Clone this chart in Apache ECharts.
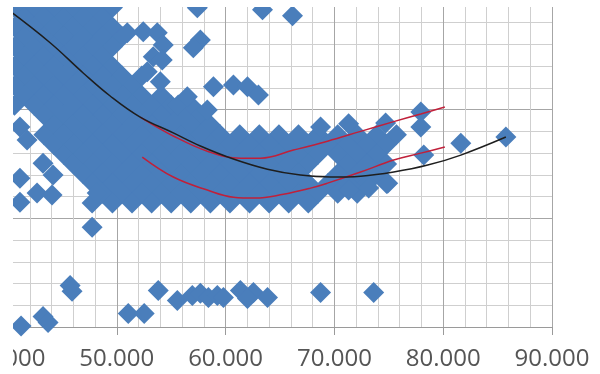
<!DOCTYPE html>
<html>
<head>
<meta charset="utf-8">
<script src="https://cdn.jsdelivr.net/npm/echarts@6/dist/echarts.min.js"></script>
<style>
  html, body { margin: 0; padding: 0; background: #fff; }
  #chart { width: 600px; height: 374px; }
</style>
</head>
<body>
<div id="chart"></div>
<script>
// x values in thousands, y in grid units (no y labels shown in the source)
const xTickValues = [40, 50, 60, 70, 80, 90];
const xTickLabels = ['40.000', '50.000', '60.000', '70.000', '80.000', '90.000'];

// dense cloud, read row by row: [y, [x...]]
const massRows = [
  [14.7, [40.6, 42.4, 44.2, 46.0, 47.8, 49.6]],
  [14.25, [41.5, 43.3, 45.1, 46.9, 48.7]],
  [13.8, [40.6, 42.4, 44.2, 46.0, 47.8, 49.6]],
  [13.35, [41.5, 43.3, 45.1, 46.9, 48.7, 50.5]],
  [12.9, [40.6, 42.4, 44.2, 46.0, 47.8, 49.6]],
  [12.45, [41.5, 43.3, 45.1, 46.9, 48.7]],
  [12.0, [40.6, 42.4, 44.2, 46.0, 47.8, 49.6]],
  [11.55, [41.5, 43.3, 45.1, 46.9, 48.7, 50.5, 52.3]],
  [11.1, [40.6, 42.4, 44.2, 46.0, 47.8, 49.6, 51.4]],
  [10.65, [41.5, 43.3, 45.1, 46.9, 48.7, 50.5, 52.3, 54.1]],
  [10.2, [40.6, 42.4, 44.2, 46.0, 47.8, 49.6, 51.4, 53.2, 55.0, 56.8]],
  [9.75, [43.3, 45.1, 46.9, 48.7, 50.5, 52.3, 54.1, 55.9, 57.7]],
  [9.3, [44.2, 46.0, 47.8, 49.6, 51.4, 53.2, 55.0, 56.8, 58.6]],
  [8.85, [43.3, 45.1, 46.9, 48.7, 50.5, 52.3, 54.1, 55.9, 57.7, 59.5, 61.3, 63.1, 64.9, 66.7, 68.5, 70.3, 72.1, 73.9, 75.7]],
  [8.4, [44.2, 46.0, 47.8, 49.6, 51.4, 53.2, 55.0, 56.8, 58.6, 60.4, 62.2, 64.0, 65.8, 67.6, 69.4, 71.2, 73.0, 74.8]],
  [7.95, [45.1, 46.9, 48.7, 50.5, 52.3, 54.1, 55.9, 57.7, 59.5, 61.3, 63.1, 64.9, 66.7, 68.5, 70.3, 72.1, 73.9]],
  [7.5, [46.0, 47.8, 49.6, 51.4, 53.2, 55.0, 56.8, 58.6, 60.4, 62.2, 64.0, 65.8, 67.6, 71.2, 73.0, 74.8]],
  [7.05, [46.9, 48.7, 50.5, 52.3, 54.1, 55.9, 57.7, 59.5, 61.3, 63.1, 64.9, 66.7, 70.3, 72.1, 73.9]],
  [6.6, [47.8, 49.6, 51.4, 53.2, 55.0, 56.8, 58.6, 60.4, 62.2, 64.0, 65.8, 67.6, 69.4, 71.2, 73.0, 74.8]],
  [6.15, [48.7, 50.5, 52.3, 54.1, 55.9, 57.7, 59.5, 61.3, 63.1, 64.9, 66.7, 68.5, 70.3, 72.1]],
  [5.7, [49.6, 51.4, 53.2, 55.0, 56.8, 58.6, 60.4, 62.2, 64.0, 65.8, 67.6]]
];

// loose points around the cloud
const edgePoints = [
  [57.4, 14.69], [63.39, 14.6], [66.15, 14.32], [57.68, 13.21], [57.03, 12.85],
  [50.96, 13.54], [52.43, 13.58], [53.72, 13.54], [54.27, 12.98], [53.35, 12.43],
  [54.18, 12.29], [52.8, 11.74], [54.0, 11.28], [58.88, 11.05], [60.72, 11.14],
  [62.01, 11.05], [63.02, 10.68], [55.65, 10.22], [56.48, 10.59], [58.32, 9.99],
  [68.73, 9.2], [71.31, 9.35], [74.71, 9.39], [77.94, 9.89], [77.94, 9.2],
  [78.21, 7.91], [81.62, 8.46], [85.76, 8.74], [71.31, 6.3], [73.15, 6.39], [74.9, 6.62],
  [41.1, 9.2], [41.75, 8.6], [43.22, 7.54], [44.14, 6.99], [41.1, 6.85],
  [42.67, 6.16], [44.05, 6.07], [41.1, 5.74], [47.73, 5.7], [48.2, 6.16], [47.73, 4.59]
];

// bottom strip
const lowPoints = [
  [41.2, 0.05], [43.22, 0.48], [43.68, 0.21], [45.71, 1.91], [45.89, 1.64],
  [51.05, 0.62], [52.52, 0.62], [53.81, 1.68], [55.56, 1.22], [56.94, 1.45],
  [57.68, 1.55], [58.42, 1.36], [59.24, 1.45], [59.8, 1.36], [61.36, 1.68],
  [62.56, 1.59], [62.01, 1.31], [63.85, 1.36], [68.73, 1.59], [73.61, 1.59]
];

// trend line (black) and the two red bands
const trendX = [40.0, 43.87, 46.91, 49.39, 52.15, 55.19, 57.68, 60.72, 63.85, 66.88, 69.65, 72.41, 75.45, 78.58, 81.62, 85.76];
const trendY = [14.6, 13.08, 11.69, 10.63, 9.66, 8.93, 8.33, 7.73, 7.26, 6.99, 6.9, 6.94, 7.13, 7.45, 7.91, 8.74];
const upperX = [52.15, 55.19, 58.32, 61.36, 63.2, 66.24, 69.37, 72.41, 75.45, 77.94, 80.15];
const upperY = [9.66, 8.79, 8.09, 7.77, 7.77, 8.14, 8.55, 9.0, 9.45, 9.8, 10.12];
const lowerX = [52.34, 55.19, 58.32, 60.72, 62.74, 65.32, 67.81, 69.37, 72.41, 75.45, 77.94, 80.15];
const lowerY = [7.82, 6.9, 6.3, 5.97, 5.93, 6.11, 6.39, 6.62, 7.13, 7.68, 8.0, 8.28];

const scatterData = [];
massRows.forEach(([y, xs]) => xs.forEach(x => scatterData.push([x, y])));
edgePoints.forEach(p => scatterData.push(p));
lowPoints.forEach(p => scatterData.push(p));

const pairUp = (xs, ys) => xs.map((x, i) => [x, ys[i]]);

const chart = echarts.init(document.getElementById('chart'));
const option = {
  animation: false,
  grid: { left: 8, right: 48, top: 1, bottom: 47, containLabel: false, outerBoundsMode: 'none' },
  xAxis: {
    type: 'value',
    min: 40,
    max: 90,
    interval: 10,
    axisLine: { show: true, lineStyle: { color: '#9a9a9a', width: 1 } },
    axisTick: { show: true, length: 8, lineStyle: { color: '#9a9a9a' } },
    axisLabel: {
      margin: 20,
      fontFamily: 'Open Sans',
      fontSize: 24,
      color: '#555555',
      formatter: v => xTickLabels[xTickValues.indexOf(v)] || ''
    },
    splitLine: { show: true, lineStyle: { color: '#a6a6a6', width: 1 } },
    minorTick: { show: false, splitNumber: 5 },
    minorSplitLine: { show: true, lineStyle: { color: '#cfcfcf', width: 1 } }
  },
  yAxis: {
    type: 'value',
    min: 0,
    max: 15,
    interval: 5,
    axisLine: { show: false },
    axisTick: { show: false },
    axisLabel: { show: false },
    splitLine: { show: true, lineStyle: { color: '#a6a6a6', width: 1 } },
    minorTick: { show: false, splitNumber: 5 },
    minorSplitLine: { show: true, lineStyle: { color: '#cfcfcf', width: 1 } }
  },
  series: [
    {
      type: 'scatter',
      symbol: 'diamond',
      symbolSize: 21,
      itemStyle: { color: '#4a7ebb', opacity: 1 },
      data: scatterData,
      z: 2
    },
    {
      type: 'line',
      smooth: 0.4,
      symbol: 'none',
      lineStyle: { color: '#1e1e1e', width: 1.5 },
      data: pairUp(trendX, trendY),
      z: 4
    },
    {
      type: 'line',
      smooth: 0.4,
      symbol: 'none',
      lineStyle: { color: '#c0203a', width: 1.5 },
      data: pairUp(upperX, upperY),
      z: 3
    },
    {
      type: 'line',
      smooth: 0.4,
      symbol: 'none',
      lineStyle: { color: '#c0203a', width: 1.5 },
      data: pairUp(lowerX, lowerY),
      z: 3
    }
  ],
  // white margins where the source picture is cropped
  graphic: [
    { type: 'rect', left: 0, top: 0, shape: { width: 13, height: 374 }, style: { fill: '#fff' }, z: 100 },
    { type: 'rect', left: 0, top: 0, shape: { width: 600, height: 7 }, style: { fill: '#fff' }, z: 100 }
  ]
};
chart.setOption(option);
</script>
</body>
</html>
